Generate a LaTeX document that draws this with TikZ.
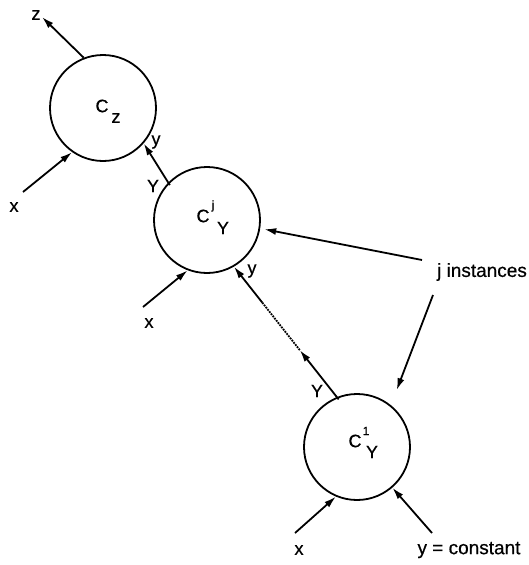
\documentclass[tikz,border=0pt]{standalone}
\usepackage{fontspec}
\setmainfont{Liberation Sans}[FakeBold=0.5]
\usetikzlibrary{arrows.meta,calc}
\begin{document}
\begin{tikzpicture}[x=1pt,y=-1pt,
  blk/.style={circle,draw,line width=1.8pt,minimum size=106pt,inner sep=0pt},
  arr/.style={line width=1.8pt,-{Latex[length=12pt,width=7pt]}},
  ln/.style={line width=1.8pt},
  lab/.style={inner sep=0pt,font=\fontsize{18}{21}\selectfont},
  big/.style={inner sep=0pt,font=\fontsize{19}{22}\selectfont},
  sup/.style={inner sep=0pt,font=\fontsize{12}{14}\selectfont}]
\useasboundingbox (0,0) rectangle (529,565);
% circles
\node[blk] (cz) at (103,108) {};
\node[blk] (cj) at (207,220) {};
\node[blk] (c1) at (357,447) {};
% circle texts
\node[lab] (czC) at (102,106) {C};
\node[lab] (czz) at (116,118) {z};
\node[lab] (cjC) at (203,216) {C};
\node[sup] (cjj) at (213,206) {j};
\node[lab] (cjY) at (223,228) {Y};
\node[lab] (c1C) at (355,441) {C};
\node[sup] (c11) at (366,431) {1};
\node[lab] (c1Y) at (372,452) {Y};
% outer labels
\node[lab] (lz) at (36,15) {z};
\node[lab] (lx1) at (14,207) {x};
\node[lab] (ly1) at (156,142) {y};
\node[lab] (lY1) at (153,186) {Y};
\node[lab] (lx2) at (149,323) {x};
\node[lab] (ly2) at (252,271) {y};
\node[lab] (lY2) at (317,391) {Y};
\node[lab] (lx3) at (299,550) {x};
\node[big] (lyc) at (469,550) {y = constant};
\node[big] (lj) at (482,272) {j instances};
% free ends
\coordinate (zend) at (42,17);
\coordinate (x1s) at (23,192);
\coordinate (x2s) at (143,307);
\coordinate (x3s) at (295,533);
\coordinate (ycs) at (432,533);
\coordinate (j1s) at (422,260);
\coordinate (j2s) at (433,295);
% connectors
\draw[arr] (cz.111) -- (zend);
\draw[arr] (x1s) -- (cz.-125);
\draw[arr,shorten <=-3pt] (cj.136) -- (cz.-41);
\draw[arr] (x2s) -- (cj.-111);
\draw[arr,shorten >=4pt] (j1s) -- (cj.-9);
\draw[arr,shorten >=16pt] (j2s) -- (c1.51.5);
\draw[arr] (x3s) -- (c1.-113);
\draw[arr] (ycs) -- (c1.-49);
\coordinate (m1) at ($(c1.112)!0.36!(cj.-60)$);
\coordinate (m2) at ($(c1.112)!0.725!(cj.-60)$);
\draw[arr,shorten <=-3pt] (c1.112) -- (m1);
\draw[ln,densely dotted] (m1) -- (m2);
\draw[arr] (m2) -- (cj.-60);
\end{tikzpicture}
\end{document}
